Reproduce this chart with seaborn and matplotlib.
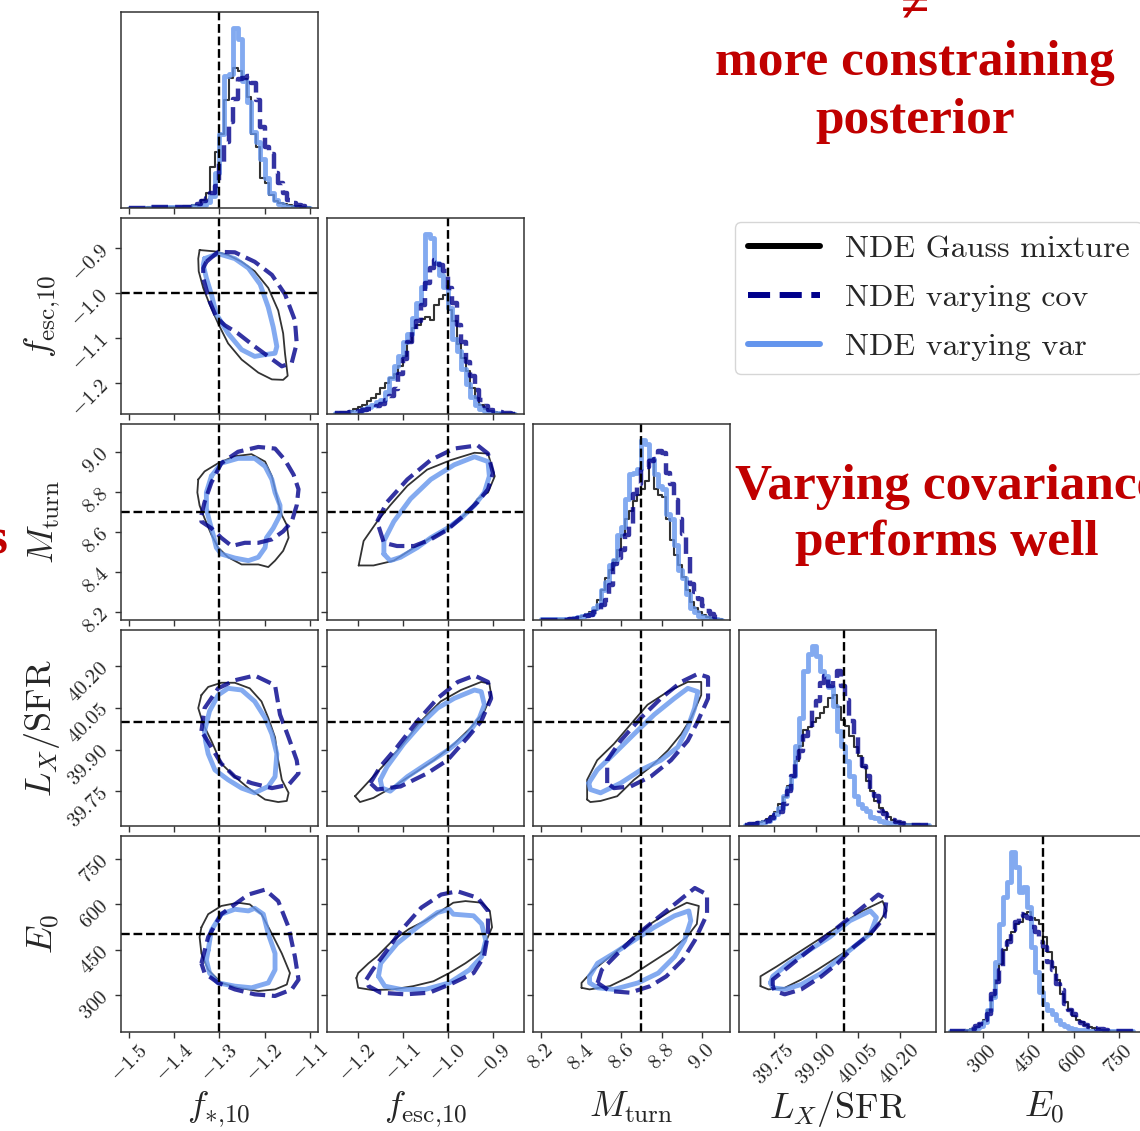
import numpy as np
import pandas as pd
import matplotlib
matplotlib.use("Agg")
import matplotlib.pyplot as plt
from matplotlib.lines import Line2D
import seaborn as sns

# ---- parameters ----
labels = [r"$f_{*{,}10}$", r"$f_{\rm esc{,}10}$", r"$M_{\rm turn}$", r"$L_X/{\rm SFR}$", r"$E_0$"]
truths = [-1.3, -1.0, 8.7, 40.0, 500]
ranges = [(-1.518, -1.083), (-1.268, -0.832), (8.16, 9.14), (39.625, 40.33), (176, 826)]
ticks = [[-1.5, -1.4, -1.3, -1.2, -1.1],
         [-1.2, -1.1, -1.0, -0.9],
         [8.2, 8.4, 8.6, 8.8, 9.0],
         [39.75, 39.90, 40.05, 40.20],
         [300, 450, 600, 750]]
tick_fmt = ["{:.1f}", "{:.1f}", "{:.1f}", "{:.2f}", "{:.0f}"]
hist_range = [(-1.5, -1.1), (-1.25, -0.85), (8.2, 9.1), (39.645, 40.305), (192, 795)]

# ---- 1D histograms (counts) ----
h_fs_gm = [0.3, 0.3, 0.3, 0.3, 0.5, 0.5, 0.5, 0.5, 0.8, 0.8, 1, 1, 1.5, 2, 2.5, 3, 8, 15, 40, 55,
           73, 107, 128, 138, 135, 127, 110, 73, 60, 30, 25, 13, 7, 5, 4, 3, 2, 1.5, 1, 0.5]
h_fs_cov = [0.3, 0.3, 0.3, 0.3, 0.5, 0.5, 0.5, 0.5, 0.5, 0.8, 0.8, 1, 1, 1, 2, 4, 7, 10, 15, 22,
            45, 65, 85, 108, 127, 128, 130, 123, 107, 80, 60, 53, 35, 25, 15, 8, 5, 3, 2, 1]
h_fs_var = [0.3, 0.3, 0.3, 0.3, 0.3, 0.5, 0.5, 0.5, 0.5, 0.5, 0.5, 0.5, 0.5, 1, 1.5, 2, 3, 6, 12, 35,
            73, 130, 132, 178, 167, 125, 105, 75, 65, 48, 30, 15, 8, 4, 2, 1, 0.5, 0.3, 0.3, 0.3]

h_fe_gm = [1, 2, 2, 3, 5, 7, 9, 13, 16, 20, 26, 31, 36, 40, 48, 58, 72, 85, 88, 94,
           96, 93, 108, 114, 118, 103, 92, 70, 56, 43, 26, 16, 9, 5, 3, 2, 1, 1, 1, 1]
h_fe_cov = [1, 1, 1, 2, 2, 3, 4, 5, 6, 8, 10, 14, 18, 25, 40, 55, 72, 82, 92, 108,
            130, 145, 153, 148, 142, 125, 110, 88, 72, 52, 38, 24, 14, 8, 4, 3, 2, 1, 1, 0.5]
h_fe_var = [1, 1, 1, 2, 2, 3, 5, 7, 9, 12, 14, 22, 36, 48, 58, 72, 80, 95, 110, 126,
            179, 175, 150, 138, 126, 105, 75, 63, 45, 30, 17, 9, 5, 3, 2, 1, 1, 0.5, 0.5, 0.5]

h_mt_gm = [1, 1, 1, 1, 1, 1, 1, 2, 2, 3, 4, 6, 8, 10, 20, 30, 42, 50, 60, 70, 85, 100, 108,
           118, 124, 130, 138, 160, 130, 124, 122, 100, 80, 65, 55, 43, 30, 18, 12, 8, 5, 3, 2, 1, 1]
h_mt_cov = [0.5, 0.5, 0.5, 0.5, 0.5, 0.5, 0.5, 1, 1, 2, 2, 4, 5, 8, 10, 15, 20, 35, 56, 62, 70, 85, 95,
            125, 135, 150, 152, 158, 160, 168, 166, 146, 135, 119, 100, 86, 64, 36, 28, 21, 14, 9, 6, 3, 2]
h_mt_var = [1, 1, 1, 1, 1, 1, 1, 1.5, 2, 3, 4, 5, 6, 12, 15, 30, 38, 55, 60, 85, 93, 120, 145,
            146, 150, 179, 175, 160, 145, 133, 130, 105, 100, 75, 50, 42, 26, 12, 8, 4, 3, 2, 1, 1, 0.5]

h_lx_gm = [1, 2, 3, 4, 5, 7, 10, 14, 22, 29, 40, 49, 65, 80, 96, 99, 104, 108, 113, 119, 128, 131,
           119, 106, 100, 90, 79, 70, 59, 45, 35, 25, 18, 14, 9, 6, 4, 3, 2, 2, 2, 2, 1, 1]
h_lx_cov = [1, 2, 2, 3, 4, 5, 8, 11, 14, 22, 35, 50, 68, 75, 90, 98, 118, 125, 143, 150, 140, 148,
            155, 140, 126, 105, 90, 70, 60, 50, 35, 30, 15, 12, 8, 6, 4, 3, 2, 1, 1, 1, 1, 1]
h_lx_var = [1, 2, 2, 3, 4, 5, 8, 12, 18, 30, 38, 50, 80, 108, 155, 172, 180, 170, 155, 150, 139, 120,
            95, 80, 65, 50, 30, 22, 18, 15, 9, 8, 5, 4, 3, 2, 1, 1, 1, 1, 1, 1, 1, 1]

h_e0_gm = [1, 1, 1, 1, 2, 3, 5, 8, 12, 22, 35, 52, 68, 82, 92, 100, 108, 110, 118, 120, 114, 112, 108,
           95, 80, 65, 52, 38, 30, 22, 16, 12, 10, 7, 5, 4, 3, 2, 2, 1, 1, 1, 1, 1, 1]
h_e0_cov = [1, 1, 1, 1, 2, 3, 6, 8, 12, 18, 38, 50, 62, 82, 90, 102, 110, 118, 116, 114, 105, 100, 90,
            85, 70, 62, 48, 42, 28, 22, 18, 14, 9, 7, 5, 4, 3, 3, 2, 1, 1, 1, 1, 1, 1]
h_e0_var = [1, 1, 1, 1, 1, 2, 4, 6, 10, 22, 35, 70, 108, 135, 150, 180, 165, 140, 145, 125, 85, 60, 40,
            28, 22, 18, 12, 8, 6, 4, 3, 2, 2, 2, 1, 1, 1, 1, 1, 1, 1, 1, 1, 1, 1]

# ---- 2D contours (x, y) in parameter units ----
c_fs_fe_gm = [(-1.344, -0.904), (-1.310, -0.907), (-1.281, -0.915), (-1.251, -0.930), (-1.222, -0.951),
              (-1.192, -0.988), (-1.170, -1.038), (-1.159, -1.089), (-1.155, -1.133), (-1.149, -1.183),
              (-1.159, -1.192), (-1.184, -1.191), (-1.214, -1.176), (-1.251, -1.147), (-1.281, -1.111),
              (-1.303, -1.067), (-1.322, -1.024), (-1.336, -0.988), (-1.346, -0.951), (-1.347, -0.923)]
c_fs_fe_var = [(-1.333, -0.923), (-1.303, -0.912), (-1.266, -0.923), (-1.236, -0.944), (-1.210, -0.980),
               (-1.192, -1.031), (-1.181, -1.075), (-1.173, -1.118), (-1.177, -1.133), (-1.199, -1.136),
               (-1.222, -1.140), (-1.251, -1.125), (-1.281, -1.089), (-1.307, -1.046), (-1.318, -1.002),
               (-1.329, -0.966), (-1.336, -0.937)]
c_fs_fe_cov = [(-1.329, -0.930), (-1.303, -0.908), (-1.266, -0.909), (-1.222, -0.930), (-1.184, -0.959),
               (-1.155, -1.002), (-1.133, -1.060), (-1.129, -1.111), (-1.140, -1.154), (-1.162, -1.162),
               (-1.192, -1.140), (-1.222, -1.118), (-1.259, -1.089), (-1.288, -1.071), (-1.307, -1.053),
               (-1.322, -1.017), (-1.336, -0.966), (-1.336, -0.944)]

c_fs_mt_gm = [(-1.347, 8.862), (-1.333, 8.902), (-1.303, 8.943), (-1.266, 8.978), (-1.229, 8.988),
              (-1.199, 8.951), (-1.184, 8.878), (-1.177, 8.813), (-1.170, 8.749), (-1.162, 8.684),
              (-1.151, 8.635), (-1.147, 8.571), (-1.159, 8.506), (-1.177, 8.457), (-1.192, 8.425),
              (-1.214, 8.438), (-1.251, 8.438), (-1.281, 8.474), (-1.303, 8.522), (-1.318, 8.587),
              (-1.333, 8.668), (-1.344, 8.732), (-1.349, 8.797)]
c_fs_mt_var = [(-1.318, 8.878), (-1.296, 8.943), (-1.259, 8.967), (-1.222, 8.967), (-1.199, 8.927),
               (-1.184, 8.862), (-1.177, 8.797), (-1.166, 8.733), (-1.166, 8.684), (-1.181, 8.619),
               (-1.196, 8.571), (-1.199, 8.522), (-1.214, 8.474), (-1.236, 8.457), (-1.266, 8.470),
               (-1.296, 8.490), (-1.307, 8.522), (-1.314, 8.587), (-1.322, 8.652), (-1.329, 8.716),
               (-1.329, 8.797)]
c_fs_mt_cov = [(-1.340, 8.684), (-1.333, 8.749), (-1.318, 8.846), (-1.296, 8.943), (-1.259, 9.000),
               (-1.214, 9.024), (-1.177, 9.016), (-1.155, 8.959), (-1.136, 8.886), (-1.125, 8.813),
               (-1.129, 8.733), (-1.140, 8.652), (-1.159, 8.603), (-1.184, 8.563), (-1.214, 8.546),
               (-1.244, 8.546), (-1.273, 8.530), (-1.296, 8.571), (-1.318, 8.619), (-1.340, 8.652)]

c_fe_mt_gm = [(-1.198, 8.433), (-1.187, 8.555), (-1.157, 8.652), (-1.128, 8.733), (-1.090, 8.830),
              (-1.046, 8.911), (-0.993, 8.959), (-0.941, 8.995), (-0.911, 8.991), (-0.896, 8.878),
              (-0.911, 8.797), (-0.934, 8.765), (-0.956, 8.700), (-0.993, 8.627), (-1.038, 8.571),
              (-1.075, 8.522), (-1.120, 8.457), (-1.165, 8.433)]
c_fe_mt_var = [(-1.142, 8.490), (-1.142, 8.555), (-1.120, 8.652), (-1.083, 8.765), (-1.038, 8.862),
               (-0.986, 8.935), (-0.941, 8.975), (-0.911, 8.951), (-0.908, 8.878), (-0.919, 8.797),
               (-0.941, 8.733), (-0.971, 8.668), (-1.001, 8.619), (-1.038, 8.571), (-1.068, 8.522),
               (-1.105, 8.474), (-1.128, 8.457)]
c_fe_mt_cov = [(-1.157, 8.652), (-1.135, 8.749), (-1.090, 8.862), (-1.038, 8.959), (-0.986, 9.016),
               (-0.934, 9.032), (-0.911, 8.991), (-0.900, 8.894), (-0.911, 8.813), (-0.934, 8.749),
               (-0.964, 8.684), (-1.001, 8.611), (-1.038, 8.563), (-1.075, 8.530), (-1.113, 8.530),
               (-1.142, 8.546)]

c_fs_lx_gm = [(-1.340, 40.096), (-1.325, 40.125), (-1.296, 40.140), (-1.266, 40.140), (-1.233, 40.120),
              (-1.207, 40.073), (-1.192, 40.014), (-1.177, 39.944), (-1.170, 39.862), (-1.162, 39.792),
              (-1.147, 39.745), (-1.151, 39.716), (-1.170, 39.712), (-1.199, 39.721), (-1.236, 39.762),
              (-1.266, 39.803), (-1.296, 39.850), (-1.318, 39.932), (-1.336, 39.991), (-1.347, 40.049)]
c_fs_lx_var = [(-1.333, 39.967), (-1.322, 40.038), (-1.303, 40.096), (-1.281, 40.120), (-1.251, 40.114),
               (-1.222, 40.073), (-1.199, 40.014), (-1.184, 39.956), (-1.173, 39.885), (-1.177, 39.803),
               (-1.192, 39.768), (-1.222, 39.745), (-1.251, 39.762), (-1.281, 39.792), (-1.310, 39.827),
               (-1.325, 39.885), (-1.331, 39.932)]
c_fs_lx_cov = [(-1.340, 39.967), (-1.333, 40.049), (-1.303, 40.120), (-1.266, 40.149), (-1.222, 40.166),
               (-1.177, 40.131), (-1.166, 40.026), (-1.147, 39.944), (-1.129, 39.862), (-1.125, 39.815),
               (-1.147, 39.774), (-1.184, 39.762), (-1.229, 39.780), (-1.266, 39.803), (-1.296, 39.850),
               (-1.318, 39.909), (-1.336, 39.956)]

c_fe_lx_gm = [(-1.206, 39.733), (-1.187, 39.766), (-1.150, 39.831), (-1.105, 39.909), (-1.060, 40.002),
              (-1.016, 40.073), (-0.971, 40.114), (-0.926, 40.143), (-0.908, 40.137), (-0.904, 40.096),
              (-0.919, 40.038), (-0.949, 39.979), (-0.986, 39.921), (-1.031, 39.862), (-1.075, 39.815),
              (-1.120, 39.768), (-1.165, 39.727), (-1.195, 39.712)]
c_fe_lx_var = [(-1.150, 39.792), (-1.135, 39.839), (-1.098, 39.921), (-1.060, 39.991), (-1.023, 40.049),
               (-0.986, 40.084), (-0.941, 40.114), (-0.926, 40.108), (-0.919, 40.061), (-0.930, 40.014),
               (-0.956, 39.956), (-1.001, 39.897), (-1.046, 39.850), (-1.090, 39.803), (-1.128, 39.751),
               (-1.146, 39.762)]
c_fe_lx_cov = [(-1.172, 39.780), (-1.150, 39.839), (-1.113, 39.909), (-1.068, 40.002), (-1.023, 40.084),
               (-0.978, 40.143), (-0.941, 40.166), (-0.911, 40.143), (-0.904, 40.084), (-0.926, 40.002),
               (-0.956, 39.944), (-1.001, 39.862), (-1.046, 39.815), (-1.105, 39.768), (-1.157, 39.757)]

c_mt_lx_gm = [(8.429, 39.721), (8.429, 39.792), (8.479, 39.862), (8.563, 39.921), (8.646, 39.991),
              (8.730, 40.061), (8.831, 40.108), (8.931, 40.143), (8.998, 40.143), (8.998, 40.096),
              (8.948, 40.014), (8.898, 39.956), (8.831, 39.897), (8.747, 39.839), (8.663, 39.792),
              (8.579, 39.733), (8.496, 39.716), (8.445, 39.712)]
c_mt_lx_var = [(8.437, 39.780), (8.479, 39.827), (8.563, 39.885), (8.663, 39.956), (8.764, 40.026),
               (8.864, 40.084), (8.931, 40.120), (8.981, 40.108), (8.965, 40.049), (8.931, 39.979),
               (8.881, 39.909), (8.797, 39.862), (8.697, 39.827), (8.596, 39.780), (8.496, 39.745),
               (8.445, 39.757)]
c_mt_lx_cov = [(8.529, 39.780), (8.529, 39.862), (8.596, 39.932), (8.697, 40.014), (8.797, 40.084),
               (8.898, 40.143), (8.981, 40.172), (9.032, 40.160), (9.032, 40.084), (8.981, 40.002),
               (8.931, 39.932), (8.847, 39.862), (8.747, 39.804), (8.646, 39.768), (8.563, 39.762)]

c_fs_e0_gm = [(-1.340, 523.8), (-1.325, 567.1), (-1.296, 594.2), (-1.259, 605.0), (-1.233, 599.6),
              (-1.207, 567.1), (-1.184, 502.2), (-1.162, 437.2), (-1.144, 372.3), (-1.151, 334.4),
              (-1.177, 318.2), (-1.214, 312.8), (-1.259, 323.6), (-1.296, 339.8), (-1.325, 383.1),
              (-1.340, 437.2), (-1.344, 491.3)]
c_fs_e0_var = [(-1.325, 448.0), (-1.318, 513.0), (-1.296, 567.1), (-1.266, 583.3), (-1.236, 577.9),
               (-1.222, 586.6), (-1.203, 567.1), (-1.192, 502.2), (-1.177, 437.2), (-1.177, 383.1),
               (-1.192, 339.8), (-1.229, 323.6), (-1.266, 329.0), (-1.303, 339.8), (-1.322, 372.3),
               (-1.329, 415.6)]
c_fs_e0_cov = [(-1.340, 404.8), (-1.325, 491.3), (-1.296, 567.1), (-1.266, 599.6), (-1.236, 632.0),
               (-1.199, 648.3), (-1.170, 610.4), (-1.147, 523.8), (-1.133, 426.4), (-1.125, 350.6),
               (-1.140, 318.2), (-1.177, 296.5), (-1.222, 301.9), (-1.266, 318.2), (-1.303, 339.8),
               (-1.333, 372.3)]

c_fe_e0_gm = [(-1.203, 356.1), (-1.199, 323.6), (-1.167, 316.0), (-1.122, 318.2), (-1.077, 329.0),
              (-1.032, 345.2), (-0.997, 372.3), (-0.961, 404.8), (-0.925, 442.6), (-0.902, 523.8),
              (-0.907, 577.9), (-0.925, 605.0), (-0.961, 610.4), (-0.988, 605.0), (-1.015, 577.9),
              (-1.050, 545.5), (-1.086, 518.4), (-1.122, 480.5), (-1.158, 426.4), (-1.176, 404.8),
              (-1.199, 372.3)]
c_fe_e0_var = [(-1.154, 361.5), (-1.149, 404.8), (-1.113, 469.7), (-1.068, 523.8), (-1.023, 572.5),
               (-0.997, 583.3), (-0.988, 567.1), (-0.943, 561.7), (-0.925, 534.6), (-0.916, 480.5),
               (-0.925, 426.4), (-0.952, 383.1), (-0.997, 339.8), (-1.050, 318.2), (-1.104, 318.2),
               (-1.140, 329.0)]
c_fe_e0_cov = [(-1.181, 350.6), (-1.167, 383.1), (-1.140, 437.2), (-1.104, 513.0), (-1.059, 588.7),
               (-1.015, 632.0), (-0.979, 642.9), (-0.934, 621.2), (-0.911, 577.9), (-0.911, 502.2),
               (-0.920, 426.4), (-0.943, 372.3), (-0.988, 339.8), (-1.041, 307.3), (-1.095, 301.9),
               (-1.149, 307.3), (-1.176, 329.0)]

c_mt_e0_gm = [(8.401, 323.6), (8.401, 339.8), (8.461, 383.1), (8.542, 426.4), (8.643, 480.5),
              (8.744, 534.6), (8.845, 577.9), (8.926, 605.0), (8.986, 594.2), (8.976, 534.6),
              (8.926, 491.3), (8.845, 448.0), (8.744, 404.8), (8.643, 361.5), (8.542, 329.0),
              (8.441, 318.2)]
c_mt_e0_var = [(8.441, 361.5), (8.481, 404.8), (8.562, 437.2), (8.663, 480.5), (8.764, 523.8),
               (8.865, 561.7), (8.936, 577.9), (8.946, 545.5), (8.915, 480.5), (8.865, 426.4),
               (8.784, 372.3), (8.683, 339.8), (8.562, 318.2), (8.481, 323.6), (8.441, 339.8)]
c_mt_e0_cov = [(8.481, 339.8), (8.502, 383.1), (8.582, 437.2), (8.683, 502.2), (8.804, 567.1),
               (8.905, 621.2), (8.966, 653.7), (9.027, 632.0), (9.027, 567.1), (8.966, 480.5),
               (8.905, 415.6), (8.824, 361.5), (8.744, 329.0), (8.643, 307.3), (8.542, 312.8)]

c_lx_e0_gm = [(39.701, 329.0), (39.701, 361.5), (39.759, 393.9), (39.832, 437.2), (39.905, 480.5),
              (39.993, 534.6), (40.066, 577.9), (40.139, 610.4), (40.153, 577.9), (40.109, 513.0),
              (40.051, 469.7), (39.978, 426.4), (39.905, 383.1), (39.847, 350.6), (39.788, 323.6),
              (39.730, 318.2)]
c_lx_e0_var = [(39.737, 339.8), (39.745, 361.5), (39.803, 404.8), (39.876, 448.0), (39.949, 491.3),
               (40.022, 545.5), (40.095, 577.9), (40.117, 556.3), (40.095, 502.2), (40.036, 458.9),
               (39.978, 415.6), (39.920, 372.3), (39.847, 334.4), (39.788, 318.2), (39.745, 323.6)]
c_lx_e0_cov = [(39.745, 329.0), (39.745, 350.6), (39.818, 404.8), (39.905, 469.7), (39.993, 534.6),
               (40.066, 588.7), (40.124, 632.0), (40.153, 615.8), (40.146, 556.3), (40.095, 502.2),
               (40.036, 458.9), (39.978, 404.8), (39.920, 361.5), (39.847, 318.2), (39.788, 301.9),
               (39.752, 312.8)]

legend_labels = ["NDE Gauss mixture", "NDE varying cov", "NDE varying var"]


def main():
    sns.set_style("ticks")
    plt.rcParams["font.family"] = "cmr10"
    plt.rcParams["mathtext.fontset"] = "cm"
    plt.rcParams["axes.formatter.use_mathtext"] = True
    plt.rcParams["axes.unicode_minus"] = True
    plt.rcParams["axes.edgecolor"] = "0.2"
    plt.rcParams["axes.linewidth"] = 1.1

    hists = [
        (h_fs_gm, h_fs_cov, h_fs_var),
        (h_fe_gm, h_fe_cov, h_fe_var),
        (h_mt_gm, h_mt_cov, h_mt_var),
        (h_lx_gm, h_lx_cov, h_lx_var),
        (h_e0_gm, h_e0_cov, h_e0_var),
    ]
    conts = {
        (1, 0): (c_fs_fe_gm, c_fs_fe_cov, c_fs_fe_var),
        (2, 0): (c_fs_mt_gm, c_fs_mt_cov, c_fs_mt_var),
        (2, 1): (c_fe_mt_gm, c_fe_mt_cov, c_fe_mt_var),
        (3, 0): (c_fs_lx_gm, c_fs_lx_cov, c_fs_lx_var),
        (3, 1): (c_fe_lx_gm, c_fe_lx_cov, c_fe_lx_var),
        (3, 2): (c_mt_lx_gm, c_mt_lx_cov, c_mt_lx_var),
        (4, 0): (c_fs_e0_gm, c_fs_e0_cov, c_fs_e0_var),
        (4, 1): (c_fe_e0_gm, c_fe_e0_cov, c_fe_e0_var),
        (4, 2): (c_mt_e0_gm, c_mt_e0_cov, c_mt_e0_var),
        (4, 3): (c_lx_e0_gm, c_lx_e0_cov, c_lx_e0_var),
    }

    # styles: gauss mixture / varying cov / varying var
    hist_sty = [dict(color="black", linewidth=1.5, alpha=0.8),
                dict(color="darkblue", linewidth=3.2, linestyle="--", alpha=0.8),
                dict(color="cornflowerblue", linewidth=3.5, alpha=0.8)]
    cont_sty = [dict(color="black", lw=1.3, alpha=0.8),
                dict(color="darkblue", lw=3.0, ls="--", alpha=0.8),
                dict(color="cornflowerblue", lw=3.5, alpha=0.8)]
    draw_order = [0, 2, 1]

    W, H = 1140, 1131
    fig = plt.figure(figsize=(W / 100, H / 100), dpi=100)
    pw, step, x0, y0 = 196.5, 206.1, 121, 11.5
    n = 5
    tfs, lfs = 15, 26

    for i in range(n):
        for j in range(i + 1):
            ax = fig.add_axes([(x0 + j * step) / W, 1 - (y0 + i * step + pw) / H, pw / W, pw / H])
            if i == j:
                lo, hi = hist_range[i]
                for k in draw_order:
                    h = np.array(hists[i][k], dtype=float)
                    edges = np.linspace(lo, hi, len(h) + 1)
                    df = pd.DataFrame({"x": 0.5 * (edges[:-1] + edges[1:]), "w": h})
                    sns.histplot(data=df, x="x", weights="w", bins=edges.tolist(), element="step",
                                 fill=False, ax=ax, **hist_sty[k])
                top = max(max(s) for s in hists[i])
                ax.set_ylim(0, 1.09 * top)
                ax.set_yticks([])
                ax.set_ylabel("")
                ax.axvline(truths[i], color="black", ls="--", lw=1.7)
            else:
                for k in draw_order:
                    pts = np.array(conts[(i, j)][k] + [conts[(i, j)][k][0]])
                    ax.plot(pts[:, 0], pts[:, 1], solid_joinstyle="round", **cont_sty[k])
                ax.axvline(truths[j], color="black", ls="--", lw=1.7)
                ax.axhline(truths[i], color="black", ls="--", lw=1.7)
                ax.set_ylim(*ranges[i])
                ax.set_yticks(ticks[i])
                if j == 0:
                    ax.set_yticklabels(["$" + tick_fmt[i].format(v) + "$" for v in ticks[i]],
                                       rotation=45, fontsize=tfs)
                    ax.set_ylabel(labels[i], fontsize=lfs)
                    ax.yaxis.set_label_coords(-0.3, 0.5)
                else:
                    ax.set_yticklabels([])
                    ax.set_ylabel("")
            ax.set_xlim(*ranges[j])
            ax.set_xticks(ticks[j])
            if i == n - 1:
                ax.set_xticklabels(["$" + tick_fmt[j].format(v) + "$" for v in ticks[j]],
                                   rotation=45, fontsize=tfs)
                ax.set_xlabel(labels[j], fontsize=lfs)
                ax.xaxis.set_label_coords(0.5, -0.29)
            else:
                ax.set_xticklabels([])
                ax.set_xlabel("")
            ax.tick_params(direction="out", length=4, width=1.0, color="0.2", pad=2.5)

    # legend
    handles = [Line2D([0], [0], color="black", lw=4.3),
               Line2D([0], [0], color="darkblue", lw=4.3, ls="--"),
               Line2D([0], [0], color="cornflowerblue", lw=4.3)]
    fig.legend(handles, legend_labels, loc="upper left",
               bbox_to_anchor=(735 / W, 1 - 222 / H), borderaxespad=0,
               fontsize=23, handlelength=2.25, labelspacing=0.65, frameon=True)

    # red annotations
    red = "#c00000"
    rf = ["Liberation Serif", "DejaVu Serif"]
    fig.text(915 / W, 1 - 21 / H, "\u2260", color=red, fontsize=37, fontweight="bold",
             family=rf, ha="center", va="baseline")
    fig.text(915 / W, 1 - 75 / H, "more constraining", color=red, fontsize=37,
             fontweight="bold", family=rf, ha="center", va="baseline")
    fig.text(915 / W, 1 - 133 / H, "posterior", color=red, fontsize=37,
             fontweight="bold", family=rf, ha="center", va="baseline")
    fig.text(947 / W, 1 - 499 / H, "Varying covariance", color=red, fontsize=37,
             fontweight="bold", family=rf, ha="center", va="baseline")
    fig.text(947 / W, 1 - 555 / H, "performs well", color=red, fontsize=37,
             fontweight="bold", family=rf, ha="center", va="baseline")
    fig.text(7 / W, 1 - 553 / H, "s", color=red, fontsize=37,
             fontweight="bold", family=rf, ha="right", va="baseline")

    fig.savefig("out.png", dpi=100)


if __name__ == "__main__":
    main()
